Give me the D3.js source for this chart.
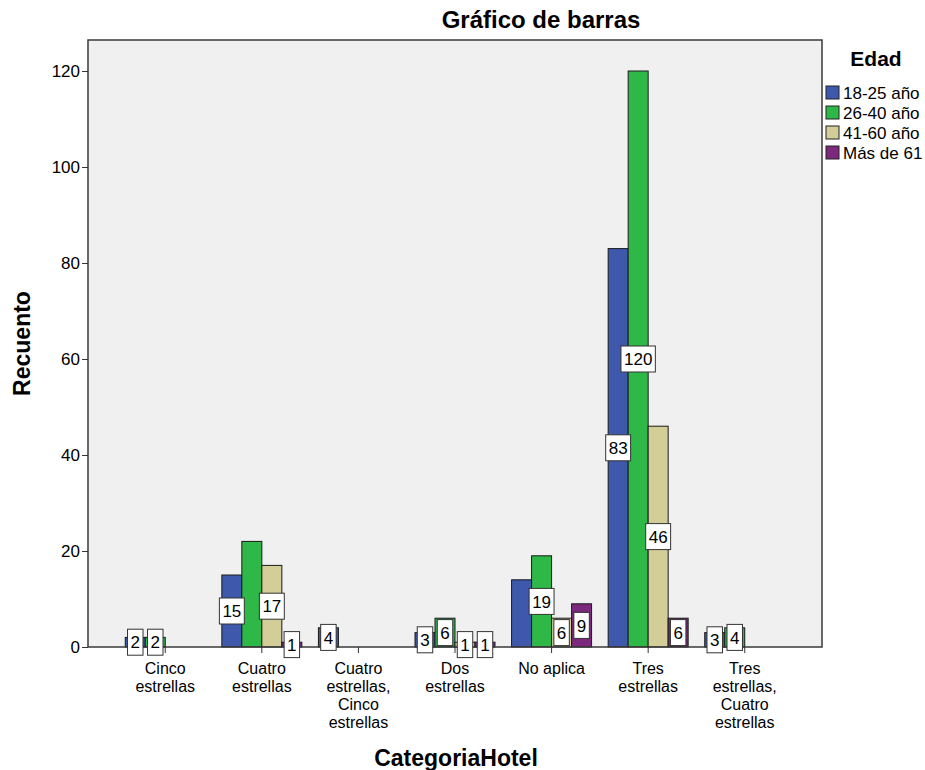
<!DOCTYPE html>
<html lang="es">
<head>
  <meta charset="UTF-8">
  <title>Gráfico de barras</title>
  <script src="https://d3js.org/d3.v7.min.js"></script>
  <style>
    body { margin: 0; background: white; }
    svg { font-family: "Liberation Sans", Arial, sans-serif; }
  </style>
</head>
<body>
  <svg></svg>
  <script>
    const categorias = [
      ['Cinco', 'estrellas'],
      ['Cuatro', 'estrellas'],
      ['Cuatro', 'estrellas,', 'Cinco', 'estrellas'],
      ['Dos', 'estrellas'],
      ['No aplica'],
      ['Tres', 'estrellas'],
      ['Tres', 'estrellas,', 'Cuatro', 'estrellas']
    ];
    const edades = ['18-25 año', '26-40 año', '41-60 año', 'Más de 61'];
    const colores = ['#3e58ac', '#2eb848', '#d3ce97', '#7c287d'];
    const edad18_25 = [2, 15, 4, 3, 14, 83, 3];
    const edad26_40 = [2, 22, 0, 6, 19, 120, 4];
    const edad41_60 = [0, 17, 0, 1, 6, 46, 0];
    const edadMas61 = [0, 1, 0, 1, 9, 6, 0];
    // etiquetas que no aparecen en el original (categoría, serie)
    const etiquetasOcultas = [[1, 1], [4, 0]];
    const ticksY = [0, 20, 40, 60, 80, 100, 120];

    const series = [edad18_25, edad26_40, edad41_60, edadMas61];
    const datos = [];
    series.forEach((vals, s) => vals.forEach((v, c) => {
      if (v > 0) datos.push({ cat: c, serie: s, valor: v,
        oculta: etiquetasOcultas.some(e => e[0] === c && e[1] === s) });
    }));

    const W = 925, H = 770;
    const mIzq = 88, mDer = 822, mSup = 40, mInf = 647;
    const svg = d3.select('svg').attr('width', W).attr('height', H);

    const x = d3.scaleBand().domain(d3.range(categorias.length))
      .range([mIzq, mDer]).paddingOuter(0.3).paddingInner(0);
    const xs = d3.scaleBand().domain(d3.range(edades.length)).range([-40, 40]);
    const y = d3.scaleLinear().domain([0, 120]).range([mInf, 71]);

    svg.append('rect')
      .attr('x', mIzq).attr('y', mSup)
      .attr('width', mDer - mIzq).attr('height', mInf - mSup)
      .attr('fill', '#f0f0f0');

    const cx = c => x(c) + x.bandwidth() / 2;

    svg.append('g').selectAll('rect')
      .data(datos).enter().append('rect')
      .attr('x', d => cx(d.cat) + xs(d.serie))
      .attr('y', d => y(d.valor))
      .attr('width', xs.bandwidth())
      .attr('height', d => mInf - y(d.valor))
      .attr('fill', d => colores[d.serie])
      .attr('stroke', '#1a1a1a')
      .attr('stroke-width', 1);

    svg.append('rect')
      .attr('x', mIzq).attr('y', mSup)
      .attr('width', mDer - mIzq).attr('height', mInf - mSup)
      .attr('fill', 'none').attr('stroke', '#3a3a3a').attr('stroke-width', 1.5);

    // eje Y
    const gy = svg.append('g')
      .attr('transform', `translate(${mIzq},0)`)
      .call(d3.axisLeft(y).tickValues(ticksY).tickSize(6).tickPadding(2));
    gy.select('.domain').remove();
    gy.selectAll('.tick line').attr('stroke', '#333');
    gy.selectAll('.tick text').attr('font-size', 17).attr('fill', '#000')
      .attr('font-family', '"Liberation Sans", Arial, sans-serif');

    // eje X
    const gx = svg.append('g').attr('transform', `translate(0,${mInf})`);
    categorias.forEach((lineas, c) => {
      gx.append('line').attr('x1', cx(c)).attr('x2', cx(c))
        .attr('y1', 0).attr('y2', 6).attr('stroke', '#333');
      const t = gx.append('text').attr('text-anchor', 'middle')
        .attr('font-size', 16).attr('fill', '#000');
      lineas.forEach((l, i) => t.append('tspan')
        .attr('x', cx(c)).attr('y', 27 + i * 18).text(l));
    });

    // etiquetas de valor
    const etiquetas = svg.append('g').selectAll('g')
      .data(datos.filter(d => !d.oculta)).enter().append('g')
      .attr('transform', d => `translate(${cx(d.cat) + xs(d.serie) + xs.bandwidth() / 2},${y(d.valor / 2)})`);
    etiquetas.append('text')
      .attr('text-anchor', 'middle').attr('dy', '0.36em')
      .attr('font-size', 17).attr('fill', '#000')
      .text(d => d.valor);
    etiquetas.each(function () {
      const g = d3.select(this);
      const b = g.select('text').node().getBBox();
      g.insert('rect', 'text')
        .attr('x', b.x - 3).attr('y', -13)
        .attr('width', b.width + 6).attr('height', 26)
        .attr('fill', 'white').attr('stroke', '#333').attr('stroke-width', 1);
    });

    // títulos
    svg.append('text').attr('x', 541).attr('y', 28)
      .attr('text-anchor', 'middle').attr('font-size', 24).attr('font-weight', 'bold')
      .text('Gráfico de barras');
    svg.append('text').attr('transform', `translate(30,${(mSup + mInf) / 2}) rotate(-90)`)
      .attr('text-anchor', 'middle').attr('font-size', 23).attr('font-weight', 'bold')
      .text('Recuento');
    svg.append('text').attr('x', 456).attr('y', 766)
      .attr('text-anchor', 'middle').attr('font-size', 23).attr('font-weight', 'bold')
      .text('CategoriaHotel');

    // leyenda
    const ley = svg.append('g').attr('transform', 'translate(826,0)');
    ley.append('text').attr('x', 50).attr('y', 66)
      .attr('text-anchor', 'middle').attr('font-size', 21).attr('font-weight', 'bold')
      .text('Edad');
    edades.forEach((e, i) => {
      ley.append('rect').attr('x', 0).attr('y', 86 + i * 20)
        .attr('width', 13).attr('height', 13)
        .attr('fill', colores[i]).attr('stroke', '#222');
      ley.append('text').attr('x', 17).attr('y', 99 + i * 20)
        .attr('font-size', 17).attr('fill', '#000').text(e);
    });
  </script>
</body>
</html>
